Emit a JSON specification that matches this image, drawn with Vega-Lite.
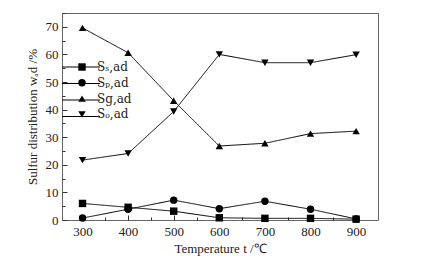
{
  "$schema": "https://vega.github.io/schema/vega-lite/v6.json",
  "autosize": "none",
  "width": 316,
  "height": 207,
  "padding": {"left": 62, "top": 13, "right": 53, "bottom": 42},
  "background": "white",
  "config": {
    "font": "Liberation Serif",
    "view": {"stroke": "#666", "strokeWidth": 1},
    "axis": {"grid": false, "domain": false, "tickColor": "#333", "labelColor": "#222", "titleColor": "#222", "labelFont": "Liberation Serif", "titleFont": "Liberation Serif", "titleFontWeight": "normal", "labelFontSize": 13, "titleFontSize": 13},
    "legend": {"labelFont": "DejaVu Serif", "labelFontSize": 12, "labelColor": "#222"}
  },
  "data": {"values": [
    {"t": 300, "s": "Sₛ,ad", "v": 6.0},
    {"t": 400, "s": "Sₛ,ad", "v": 4.6},
    {"t": 500, "s": "Sₛ,ad", "v": 3.2},
    {"t": 600, "s": "Sₛ,ad", "v": 0.8},
    {"t": 700, "s": "Sₛ,ad", "v": 0.6},
    {"t": 800, "s": "Sₛ,ad", "v": 0.6},
    {"t": 900, "s": "Sₛ,ad", "v": 0.3},
    {"t": 300, "s": "Sₚ,ad", "v": 0.7},
    {"t": 400, "s": "Sₚ,ad", "v": 3.9},
    {"t": 500, "s": "Sₚ,ad", "v": 7.2},
    {"t": 600, "s": "Sₚ,ad", "v": 4.1},
    {"t": 700, "s": "Sₚ,ad", "v": 6.8},
    {"t": 800, "s": "Sₚ,ad", "v": 3.9},
    {"t": 900, "s": "Sₚ,ad", "v": 0.4},
    {"t": 300, "s": "Sg,ad", "v": 69.6},
    {"t": 400, "s": "Sg,ad", "v": 60.6},
    {"t": 500, "s": "Sg,ad", "v": 43.2},
    {"t": 600, "s": "Sg,ad", "v": 26.8},
    {"t": 700, "s": "Sg,ad", "v": 27.8},
    {"t": 800, "s": "Sg,ad", "v": 31.3},
    {"t": 900, "s": "Sg,ad", "v": 32.2},
    {"t": 300, "s": "Sₒ,ad", "v": 21.7},
    {"t": 400, "s": "Sₒ,ad", "v": 24.1},
    {"t": 500, "s": "Sₒ,ad", "v": 39.3},
    {"t": 600, "s": "Sₒ,ad", "v": 60.0},
    {"t": 700, "s": "Sₒ,ad", "v": 57.0},
    {"t": 800, "s": "Sₒ,ad", "v": 57.0},
    {"t": 900, "s": "Sₒ,ad", "v": 59.9}
  ]},
  "encoding": {
    "x": {"field": "t", "type": "quantitative", "scale": {"domain": [255, 948], "nice": false, "zero": false},
      "axis": {"values": [300, 350, 400, 450, 500, 550, 600, 650, 700, 750, 800, 850, 900], "labelExpr": "datum.value % 100 === 0 ? datum.label : ''", "tickSize": {"condition": {"test": "datum.value % 100 === 0", "value": -5}, "value": -3}, "labelPadding": 10, "title": "Temperature    t /℃", "titlePadding": 4}},
    "y": {"field": "v", "type": "quantitative", "scale": {"domain": [0, 75], "nice": false},
      "axis": {"values": [0, 5, 10, 15, 20, 25, 30, 35, 40, 45, 50, 55, 60, 65, 70, 75], "labelExpr": "datum.value % 10 === 0 ? datum.label : ''", "tickSize": {"condition": {"test": "datum.value % 10 === 0", "value": -5}, "value": -3}, "labelPadding": 9, "title": "Sulfur distribution   wₐd /%", "titlePadding": 6}}
  },
  "layer": [
    {
      "mark": {"type": "line", "color": "black", "strokeWidth": 1},
      "encoding": {
        "strokeDash": {"field": "s", "type": "nominal", "sort": ["Sₛ,ad", "Sₚ,ad", "Sg,ad", "Sₒ,ad"], "scale": {"range": [[1, 0], [1, 0], [1, 0], [1, 0]]},
          "legend": {"title": null, "orient": "none", "legendX": 13, "legendY": 48, "symbolType": "M-3.45,0H3.45", "symbolSize": 121, "symbolStrokeColor": "black", "symbolStrokeWidth": 1, "labelExpr": "''", "rowPadding": 4.5, "labelOffset": 0}}
      }
    },
    {
      "mark": {"type": "point", "filled": true, "color": "black", "opacity": 1, "size": 55},
      "encoding": {
        "shape": {"field": "s", "type": "nominal", "sort": ["Sₛ,ad", "Sₚ,ad", "Sg,ad", "Sₒ,ad"], "scale": {"range": ["square", "circle", "triangle-up", "triangle-down"]},
          "legend": {"title": null, "orient": "none", "legendX": 14, "legendY": 48, "symbolSize": 55, "symbolFillColor": "black", "symbolStrokeColor": "black", "symbolStrokeWidth": 0, "rowPadding": 3.8, "labelOffset": 9}}
      }
    }
  ]
}
